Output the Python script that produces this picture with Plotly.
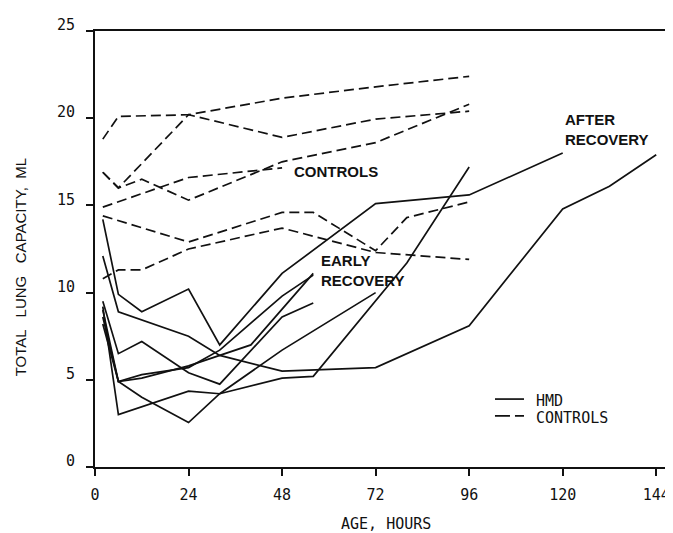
import plotly.graph_objects as go

# ---- data (age in hours, total lung capacity in ml) ----
x_ticks = [0, 24, 48, 72, 96, 120, 144]
y_ticks = [0, 5, 10, 15, 20, 25]

hmd_1_x = [2, 6, 12, 24, 32, 48, 72, 96, 120]
hmd_1_y = [14.2, 9.9, 8.9, 10.2, 7.0, 11.1, 15.1, 15.6, 18.0]
hmd_2_x = [2, 6, 24, 32, 48, 72, 96, 120, 132, 144]
hmd_2_y = [12.1, 8.9, 7.5, 6.4, 5.5, 5.7, 8.1, 14.8, 16.1, 17.9]
hmd_3_x = [2, 6, 12, 24, 32, 48, 56]
hmd_3_y = [9.5, 6.5, 7.2, 5.4, 4.75, 8.6, 9.4]
hmd_4_x = [2, 6, 24, 32, 48, 56, 80, 96]
hmd_4_y = [9.2, 3.0, 4.35, 4.2, 5.1, 5.2, 11.7, 17.2]
hmd_5_x = [2, 6, 12, 24, 32, 48, 72]
hmd_5_y = [9.0, 4.9, 4.0, 2.55, 4.2, 6.7, 10.0]
hmd_6_x = [2, 6, 12, 24, 32, 48, 56]
hmd_6_y = [8.6, 4.9, 5.3, 5.7, 6.7, 9.8, 11.0]
hmd_7_x = [2, 6, 12, 24, 40, 56]
hmd_7_y = [8.2, 4.9, 5.1, 5.8, 7.0, 11.1]

ctrl_1_x = [2, 6, 24, 48, 72, 96]
ctrl_1_y = [18.8, 20.1, 20.2, 21.15, 21.8, 22.4]
ctrl_2_x = [2, 6, 24, 48, 72, 96]
ctrl_2_y = [16.9, 16.0, 20.2, 18.9, 19.95, 20.4]
ctrl_3_x = [2, 6, 12, 24, 48, 72, 96]
ctrl_3_y = [16.9, 16.0, 16.5, 15.3, 17.5, 18.6, 20.8]
ctrl_4_x = [2, 24, 48]
ctrl_4_y = [14.9, 16.6, 17.15]
ctrl_5_x = [2, 24, 48, 56, 72, 80, 96]
ctrl_5_y = [14.4, 12.9, 14.6, 14.6, 12.4, 14.3, 15.2]
ctrl_6_x = [2, 6, 12, 24, 48, 72, 96]
ctrl_6_y = [10.8, 11.3, 11.3, 12.5, 13.7, 12.3, 11.9]

hmd_series = [(hmd_1_x, hmd_1_y), (hmd_2_x, hmd_2_y), (hmd_3_x, hmd_3_y),
              (hmd_4_x, hmd_4_y), (hmd_5_x, hmd_5_y), (hmd_6_x, hmd_6_y),
              (hmd_7_x, hmd_7_y)]
ctrl_series = [(ctrl_1_x, ctrl_1_y), (ctrl_2_x, ctrl_2_y), (ctrl_3_x, ctrl_3_y),
               (ctrl_4_x, ctrl_4_y), (ctrl_5_x, ctrl_5_y), (ctrl_6_x, ctrl_6_y)]

legend_labels = ["HMD", "CONTROLS"]

INK = "#111111"
MONO = "DejaVu Sans Mono, monospace"
SANS = "Liberation Sans, Arial, sans-serif"
DASH = "10px,5px"

fig = go.Figure()
for i, (xs, ys) in enumerate(hmd_series):
    fig.add_trace(go.Scatter(x=xs, y=ys, mode="lines", name=legend_labels[0],
                             legendgroup="hmd", showlegend=False,
                             line=dict(color=INK, width=1.7)))
for i, (xs, ys) in enumerate(ctrl_series):
    fig.add_trace(go.Scatter(x=xs, y=ys, mode="lines", name=legend_labels[1],
                             legendgroup="ctrl", showlegend=False,
                             line=dict(color=INK, width=1.7, dash=DASH)))

# hand-drawn key, as in the original figure
key_shapes = [
    dict(type="line", xref="paper", yref="paper", x0=0.692, x1=0.7422,
         y0=0.1558, y1=0.1558, line=dict(color=INK, width=1.7)),
    dict(type="line", xref="paper", yref="paper", x0=0.692, x1=0.7422,
         y0=0.1174, y1=0.1174, line=dict(color=INK, width=1.7, dash="15px,5px")),
]
key_texts = [
    dict(text=legend_labels[0], xref="paper", yref="paper", x=0.7595, y=0.1512,
         xanchor="left", yanchor="middle", showarrow=False,
         font=dict(family=MONO, size=15, color=INK)),
    dict(text=legend_labels[1], xref="paper", yref="paper", x=0.7595, y=0.1129,
         xanchor="left", yanchor="middle", showarrow=False,
         font=dict(family=MONO, size=15, color=INK)),
]

fig.update_layout(
    width=673, height=533, autosize=False,
    margin=dict(l=87, r=8, t=16, b=74),
    paper_bgcolor="white", plot_bgcolor="white",
    showlegend=False,
    xaxis=dict(range=[0, 148.3], tickvals=x_ticks, ticks="outside", ticklen=7,
               tickwidth=1.5, tickcolor=INK, showline=True, linewidth=2,
               linecolor=INK, mirror=True, showgrid=False, zeroline=False,
               tickfont=dict(family=MONO, size=15, color=INK), ticklabelstandoff=6),
    yaxis=dict(range=[0, 25], tickvals=y_ticks, ticks="outside", ticklen=7,
               tickwidth=1.5, tickcolor=INK, showline=True, linewidth=2,
               linecolor=INK, showgrid=False, zeroline=False,
               tickfont=dict(family=MONO, size=15, color=INK),
               ticklabelshift=-6, ticklabelstandoff=8),
    shapes=key_shapes,
    annotations=key_texts + [
        dict(text="TOTAL   LUNG   CAPACITY,  ML", xref="paper", yref="paper",
             x=-0.1298, y=0.458, xanchor="center", yanchor="middle",
             textangle=-90, showarrow=False,
             font=dict(family=SANS, size=15, color=INK)),
        dict(text="AGE, HOURS", xref="paper", yref="paper", x=0.503, y=-0.131,
             xanchor="center", yanchor="middle",
             showarrow=False, font=dict(family=MONO, size=15, color=INK)),
        dict(text="CONTROLS", x=61.9, y=16.93, xanchor="center", yanchor="middle",
             showarrow=False,
             font=dict(family=SANS, size=15, color=INK, weight="bold")),
        dict(text="EARLY<br>RECOVERY", x=57.5, y=11.29, xanchor="left",
             yanchor="middle", align="left", showarrow=False,
             font=dict(family=SANS, size=15, color=INK, weight="bold")),
        dict(text="AFTER<br>RECOVERY", x=120.2, y=19.38, xanchor="left",
             yanchor="middle", align="left", showarrow=False,
             font=dict(family=SANS, size=15, color=INK, weight="bold")),
    ],
)

fig.write_html("out.html")
